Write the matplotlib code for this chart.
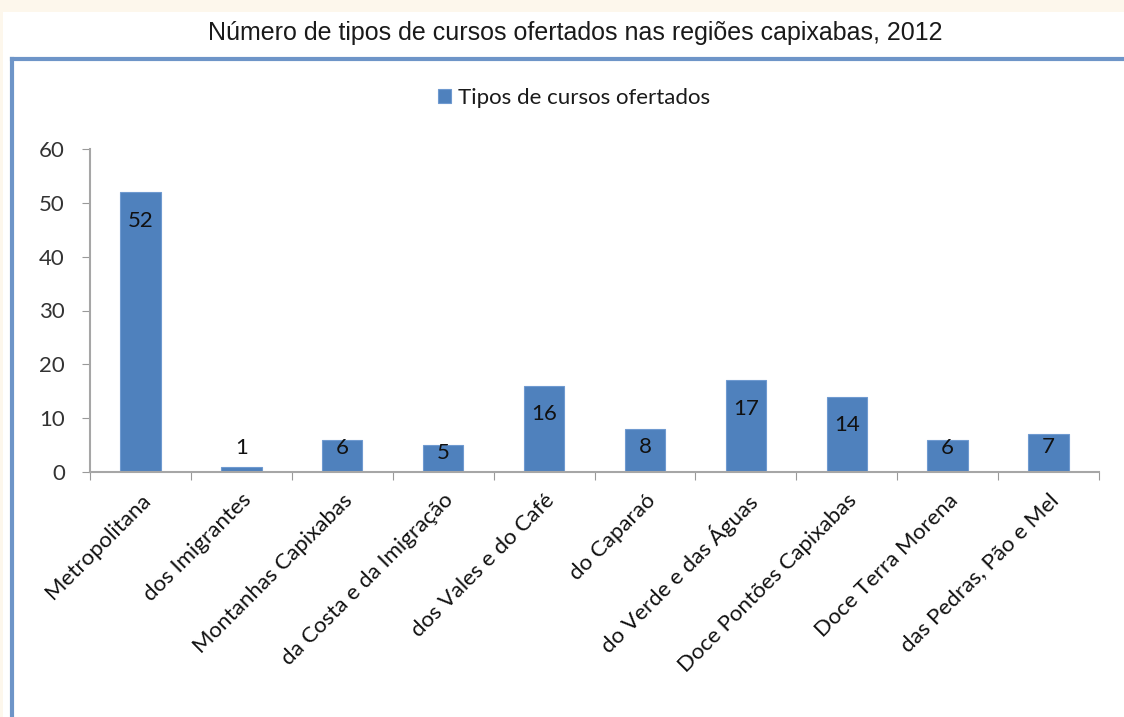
import matplotlib
matplotlib.use("Agg")
import matplotlib.pyplot as plt
from matplotlib.patches import Rectangle
from matplotlib.lines import Line2D

# data
regioes = ['Metropolitana', 'dos Imigrantes', 'Montanhas Capixabas',
           'da Costa e da Imigração', 'dos Vales e do Café', 'do Caparaó',
           'do Verde e das Águas', 'Doce Pontões Capixabas',
           'Doce Terra Morena', 'das Pedras, Pão e Mel']
cursos = [52, 1, 6, 5, 16, 8, 17, 14, 6, 7]

bar_color = '#4F81BD'
label_font = 'Lato'
fs = 16

fig = plt.figure(figsize=(11.24, 7.17), dpi=100)
fig.patch.set_facecolor('#FDF7EC')

# white panel and blue frame
fig.add_artist(Rectangle((3 / 1124, 0), 1, 1 - 12 / 717, transform=fig.transFigure,
                         facecolor='white', edgecolor='none', zorder=0))
fig.add_artist(Line2D([12 / 1124, 12 / 1124], [0, 1 - 59 / 717], transform=fig.transFigure,
                      color='#6E95C8', lw=3, zorder=1))
fig.add_artist(Line2D([12 / 1124, 1], [1 - 59 / 717, 1 - 59 / 717], transform=fig.transFigure,
                      color='#6E95C8', lw=3, zorder=1))

fig.text(575 / 1124, 1 - 33 / 717,
         'Número de tipos de cursos ofertados nas regiões capixabas, 2012',
         ha='center', va='center', fontsize=18, family='Liberation Sans', color='#1a1a1a')

ax = fig.add_axes([90 / 1124, 1 - 472 / 717, (1099 - 90) / 1124, (472 - 149) / 717])
ax.set_facecolor('none')
x = range(len(regioes))
bars = ax.bar(x, cursos, width=0.4, color=bar_color, edgecolor='#6F9AD0', linewidth=0.8,
              label='Tipos de cursos ofertados')

ax.set_xlim(-0.5, len(regioes) - 0.5)
ax.set_ylim(0, 60)
ax.set_yticks(range(0, 61, 10))
ax.set_xticks([i + 0.5 for i in range(-1, len(regioes))], minor=False)
ax.set_xticklabels([])
ax.set_xticks(list(x), minor=True)
ax.set_xticklabels(regioes, minor=True, rotation=45, ha='right', rotation_mode='anchor',
                   fontsize=fs, family=label_font, color='#111111')
ax.tick_params(axis='x', which='minor', length=0, pad=13)
ax.tick_params(axis='x', which='major', length=6, color='#999999', direction='out')
ax.tick_params(axis='y', length=6, color='#999999', direction='out', labelsize=fs,
               labelcolor='#333333', pad=12)
for lab in ax.get_yticklabels():
    lab.set_family(label_font)

for side in ['top', 'right']:
    ax.spines[side].set_visible(False)
for side in ['left', 'bottom']:
    ax.spines[side].set_color('#A6A6A6')
    ax.spines[side].set_linewidth(1.5)

# value labels, Excel "inside end" style
for xi, v in zip(x, cursos):
    if v < 3:
        ypos = v + 3.5
    else:
        ypos = max(v - 5.3, min(v - 1.5, 4.6))
    ax.text(xi, ypos, str(v), ha='center', va='center', fontsize=fs,
            family=label_font, color='#111111')

leg = fig.legend(handles=[bars], labels=['Tipos de cursos ofertados'],
                 loc='center', bbox_to_anchor=(574 / 1124, 1 - 98 / 717), frameon=False,
                 prop={'family': label_font, 'size': fs}, handlelength=0.6, handleheight=0.6,
                 handletextpad=0.3)
for t in leg.get_texts():
    t.set_color('#1a1a1a')

fig.savefig('out.png', dpi=100, facecolor=fig.get_facecolor())
